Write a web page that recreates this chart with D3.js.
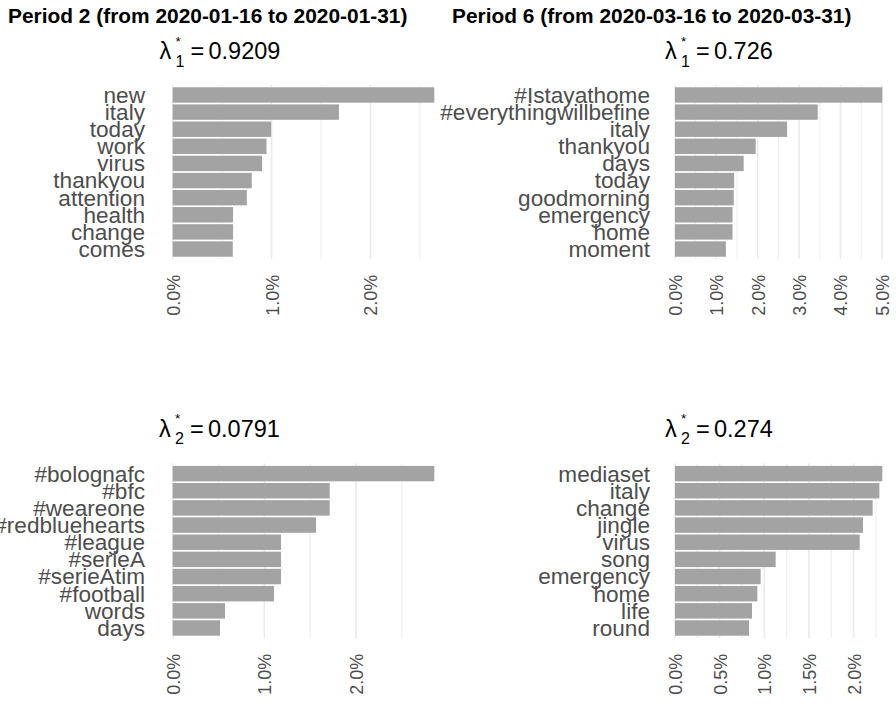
<!DOCTYPE html>
<html>
<head>
<meta charset="utf-8">
<script src="https://cdn.jsdelivr.net/npm/d3@7/dist/d3.min.js"></script>
<style>
  html, body { margin: 0; padding: 0; background: #ffffff; }
  svg { display: block; font-family: "Liberation Sans", Arial, Helvetica, sans-serif; }
</style>
</head>
<body>
<svg id="chart" width="896" height="708"></svg>
<script>
// ---- data: top-10 term shares per period and topic ----
const periodTitles = [
  "Period 2 (from 2020-01-16 to 2020-01-31)",
  "Period 6 (from 2020-03-16 to 2020-03-31)"
];

const p2Topic1Words = ["new", "italy", "today", "work", "virus", "thankyou", "attention", "health", "change", "comes"];
const p2Topic1Share = [0.02647, 0.01682, 0.00996, 0.00949, 0.00905, 0.00800, 0.00750, 0.00611, 0.00611, 0.00608];

const p2Topic2Words = ["#bolognafc", "#bfc", "#weareone", "#redbluehearts", "#league", "#serieA", "#serieAtim", "#football", "words", "days"];
const p2Topic2Share = [0.02854, 0.01713, 0.01713, 0.01564, 0.01182, 0.01182, 0.01182, 0.01105, 0.00571, 0.00516];

const p6Topic1Words = ["#Istayathome", "#everythingwillbefine", "italy", "thankyou", "days", "today", "goodmorning", "emergency", "home", "moment"];
const p6Topic1Share = [0.0501, 0.0345, 0.0271, 0.0195, 0.0166, 0.0143, 0.0142, 0.0139, 0.0139, 0.0123];

const p6Topic2Words = ["mediaset", "italy", "change", "jingle", "virus", "song", "emergency", "home", "life", "round"];
const p6Topic2Share = [0.02321, 0.02288, 0.02213, 0.02105, 0.02068, 0.01127, 0.00959, 0.00922, 0.00862, 0.00829];

// topic weights
const lambdaIndex = [1, 2];
const p2Lambda = ["0.9209", "0.0791"];
const p6Lambda = ["0.726", "0.274"];

// axis breaks
const ticksOneTwo = [0, 0.01, 0.02];
const minorOneTwo = [0.005, 0.015, 0.025];
const ticksFive = [0, 0.01, 0.02, 0.03, 0.04, 0.05];
const minorFive = [0.005, 0.015, 0.025, 0.035, 0.045];
const ticksHalf = [0, 0.005, 0.01, 0.015, 0.02];
const minorHalf = [0.0025, 0.0075, 0.0125, 0.0175, 0.0225];

// ---- layout ----
const panels = [
  { words: p2Topic1Words, share: p2Topic1Share, ticks: ticksOneTwo, minor: minorOneTwo,
    x0: 172.7, x1: 434.3, y0: 84.7, y1: 259.3, lamX: 159.5, lamY: 59, lamIdx: lambdaIndex[0], lam: p2Lambda[0] },
  { words: p6Topic1Words, share: p6Topic1Share, ticks: ticksFive, minor: minorFive,
    x0: 675, x1: 882.3, y0: 84.7, y1: 259.3, lamX: 665, lamY: 59, lamIdx: lambdaIndex[0], lam: p6Lambda[0] },
  { words: p2Topic2Words, share: p2Topic2Share, ticks: ticksOneTwo, minor: minorOneTwo,
    x0: 172.7, x1: 434.3, y0: 463.3, y1: 638.3, lamX: 159, lamY: 436.7, lamIdx: lambdaIndex[1], lam: p2Lambda[1] },
  { words: p6Topic2Words, share: p6Topic2Share, ticks: ticksHalf, minor: minorHalf,
    x0: 675, x1: 882.3, y0: 463.3, y1: 638.3, lamX: 665, lamY: 436.7, lamIdx: lambdaIndex[1], lam: p6Lambda[1] }
];

const svg = d3.select("#chart");
svg.append("rect").attr("width", 896).attr("height", 708).attr("fill", "#ffffff");

// column titles
svg.selectAll("text.period")
  .data(periodTitles)
  .join("text")
  .attr("class", "period")
  .attr("x", (d, i) => i === 0 ? 8 : 452)
  .attr("y", 23)
  .attr("font-size", "20.9px")
  .attr("font-weight", "bold")
  .attr("fill", "#000000")
  .text(d => d);

const pct = d3.format(".1%");
const labelGrey = "#4D4D4D";

panels.forEach(p => {
  const x = d3.scaleLinear().domain([0, d3.max(p.share)]).range([p.x0, p.x1]);
  const y = d3.scaleBand().domain(p.words).range([p.y0, p.y1])
    .paddingInner(0.1).paddingOuter(0.15);

  const g = svg.append("g");

  // grid lines (minor thinner, major thicker)
  g.selectAll("line.minor").data(p.minor).join("line")
    .attr("x1", d => x(d)).attr("x2", d => x(d))
    .attr("y1", p.y0).attr("y2", p.y1)
    .attr("stroke", "#EBEBEB").attr("stroke-width", 0.9);
  g.selectAll("line.major").data(p.ticks).join("line")
    .attr("x1", d => x(d)).attr("x2", d => x(d))
    .attr("y1", p.y0).attr("y2", p.y1)
    .attr("stroke", "#EBEBEB").attr("stroke-width", 1.6);

  // bars
  g.selectAll("rect.bar").data(p.words).join("rect")
    .attr("x", x(0))
    .attr("y", d => y(d))
    .attr("width", (d, i) => x(p.share[i]) - x(0))
    .attr("height", y.bandwidth())
    .attr("fill", "#A3A3A3");

  // x axis: rotated percentage labels
  const xAxis = g.append("g")
    .attr("transform", `translate(0,${p.y1})`)
    .call(d3.axisBottom(x).tickValues(p.ticks).tickFormat(pct).tickSize(0));
  xAxis.select(".domain").remove();
  xAxis.attr("font-family", null).attr("font-size", null);
  xAxis.selectAll("text")
    .attr("transform", "rotate(-90)")
    .attr("x", -15.5)
    .attr("y", 0)
    .attr("dy", "0.36em")
    .attr("text-anchor", "end")
    .attr("font-size", "18px")
    .attr("fill", labelGrey);

  // y axis: term labels
  const yAxis = g.append("g")
    .attr("transform", `translate(${p.x0},0)`)
    .call(d3.axisLeft(y).tickSize(0).tickPadding(p.x0 > 500 ? 25 : 27.7));
  yAxis.select(".domain").remove();
  yAxis.attr("font-family", null).attr("font-size", null);
  yAxis.selectAll("text")
    .attr("font-size", "22.6px")
    .attr("dy", "0.35em")
    .attr("fill", labelGrey);

  // topic weight heading: lambda with sub/superscript
  const lg = svg.append("g").attr("transform", `translate(${p.lamX},${p.lamY})`)
    .attr("fill", "#000000");
  lg.append("text").attr("x", 0).attr("y", 0).attr("font-size", "23.5px").text("λ");
  lg.append("text").attr("x", 16).attr("y", 7.6).attr("font-size", "16px").text(p.lamIdx);
  lg.append("text").attr("x", 16).attr("y", -13.5).attr("font-size", "13.5px").text("*");
  lg.append("text").attr("x", 31).attr("y", 0).attr("font-size", "23.5px").text("=");
  lg.append("text").attr("x", 49).attr("y", 0).attr("font-size", "23.5px").text(p.lam);
});
</script>
</body>
</html>
